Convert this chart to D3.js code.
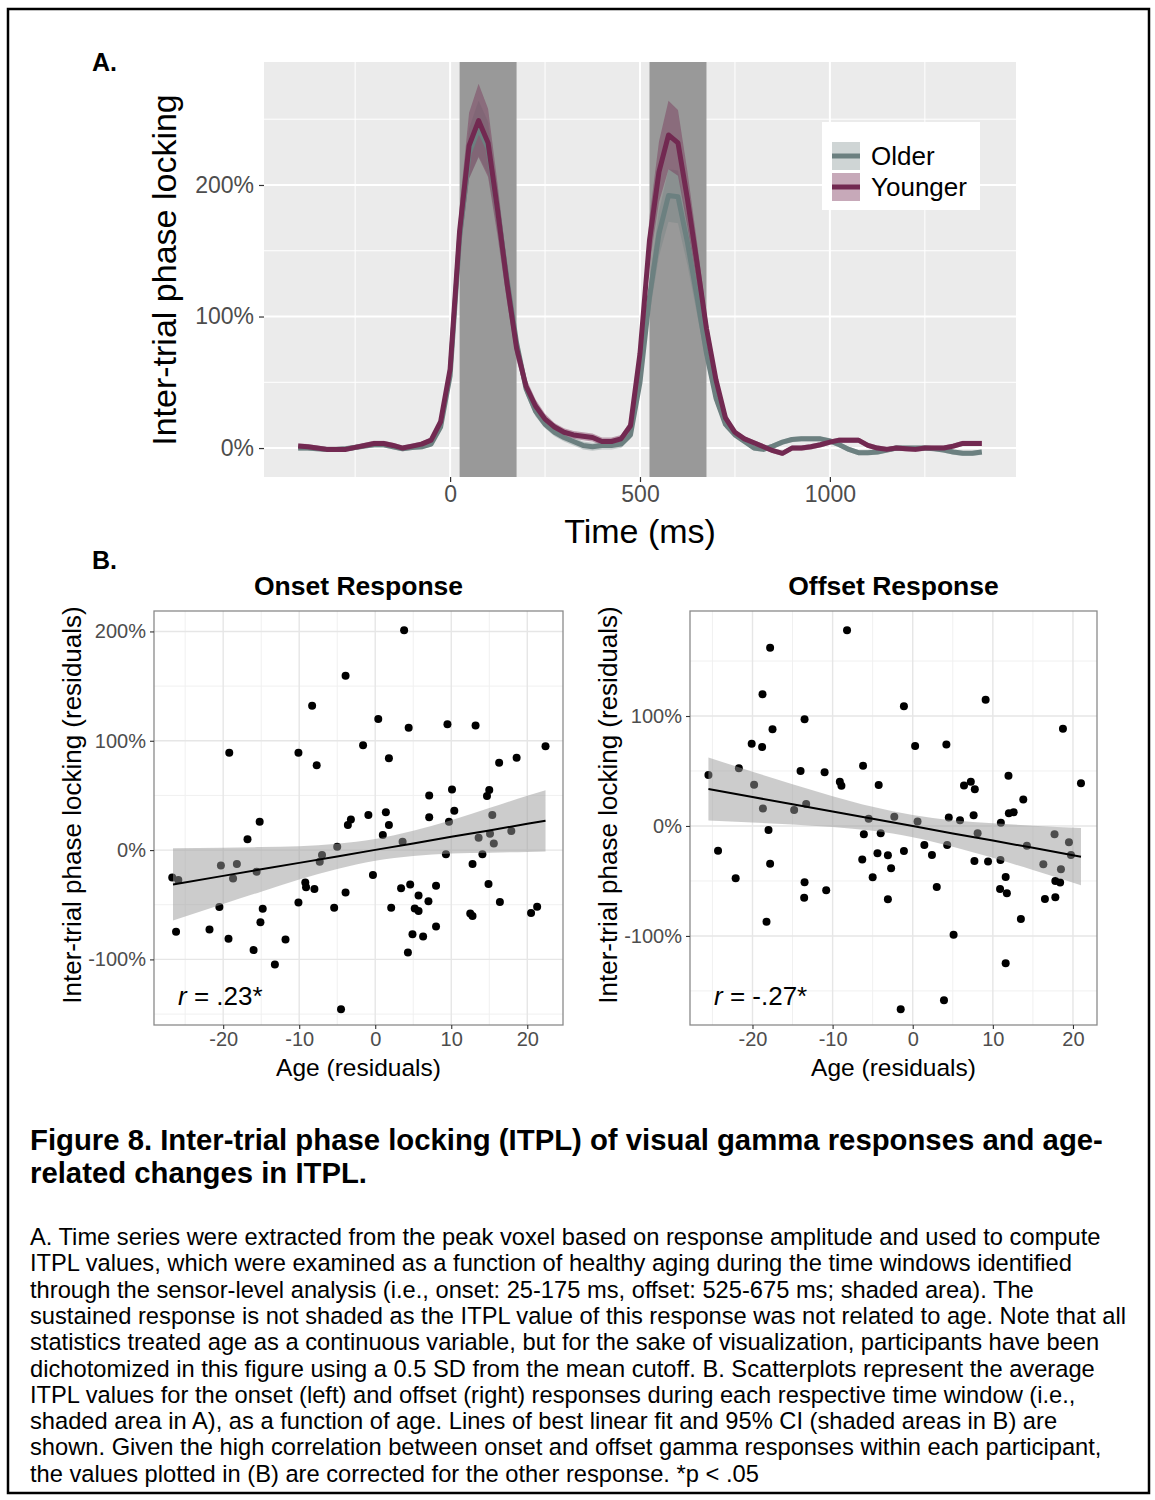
<!DOCTYPE html>
<html lang="en">
<head>
<meta charset="utf-8">
<title>ITPL figure</title>
<script src="https://cdn.jsdelivr.net/npm/d3@7"></script>
<style>
body { margin: 0; background: #fff; }
text { font-family: "Liberation Sans", Arial, sans-serif; }
</style>
</head>
<body>
<script>

// ---- panel A: time series (ms, % ITPL) ----
var times = [-400,-375,-350,-325,-300,-275,-250,-225,-200,-175,-150,-125,-100,-75,-50,-25,
  0,25,50,75,100,125,150,175,200,225,250,275,300,325,350,375,400,425,450,475,
  500,525,550,575,600,625,650,675,700,725,750,775,800,825,850,875,900,925,950,975,
  1000,1025,1050,1075,1100,1125,1150,1175,1200,1225,1250,1275,1300,1325,1350,1375,1400];

var younger = [1.5,1,0,-1,-1,-1,0.5,2,3.5,3.5,2,0,1.5,3,6,20,
  60,165,230,249,232,181,125,76,47,32,22,16,12,10,9,8,5,5,7,17,
  72,158,210,238,232,189,141,91,52,23,12,7,4,1,-2,-4,0,0,1,2.5,
  4.5,6,6,6,2,0,-1,0,-0.5,-1,0,0,0,1.5,3.5,3.5,3.5];
var youngerCI = [2,2,2,2,2,2,2,2,2,2,2,2,2,2,2,
  4,8,18,25,28,26,20,14,9,6,5,4,3,3,
  3,3,3,3,3,3,
  4,9,18,23,26,25,21,16,10,6,4,
  2,2,2,2,2,2,2,2,2,2,2,2,2,2,2,2,2,2,2,2,2,2,2,2,2,2,2];

var older = [0,0,-0.5,-1,-1,-0.5,0.5,1.5,2.5,2.5,1,-0.5,0.5,1,3,16,
  55,160,224,243,228,181,128,80,45,28,18,12,8,5,2,1,2,2,3,10,
  50,115,163,192,191,156,115,72,38,18,10,5,0,-1,1.5,4.5,6.5,7,7,7,
  5.5,2.5,-1,-3.5,-3.5,-3,-1.5,0,0,0,0,-0.5,-1.5,-3,-4,-4,-3];
var olderCI = [2,2,2,2,2,2,2,2,2,2,2,2,2,2,2,
  3,7,15,19,21,20,16,12,8,5,4,3,3,3,
  3,3,3,3,3,3,
  3,7,13,17,20,20,17,13,8,5,3,
  2,2,2,2,2,2,2,2,2,2,2,2,2,2,2,2,2,2,2,2,2,2,2,2,2,2,2];

var groups = ["Older", "Younger"];
var windows = [[25, 175], [525, 675]];
var timeTicks = [0, 500, 1000];
var itplTicks = [0, 100, 200];

// ---- panel B: scatterplots (age residual, ITPL residual %) ----
var onsetAge = [-26.7,-25.9,-26.2,-21.8,-20.3,-20.5,-19.3,-19.2,-18.2,-18.7,-16.8,-15.2,-15.6,-14.8,-15.1,-16.0,
  -13.2,-11.8,-10.1,-10.1,-9.2,-9.1,-8.3,-8.0,-7.7,-7.3,-7.0,-5.4,-5.0,-4.5,-3.9,-3.9,-3.6,-3.2,-1.6,-0.9,
  -0.3,0.4,1.0,1.4,1.8,1.8,2.1,3.4,3.6,3.8,4.3,4.4,4.6,4.9,5.2,5.7,5.7,6.3,7.0,7.1,7.1,8.0,8.0,9.3,9.5,9.7,
  10.1,10.4,12.5,12.8,12.8,13.2,13.6,14.1,14.7,14.9,15.0,15.1,15.4,15.6,16.3,16.4,17.9,18.6,20.5,21.3,22.4];
var onsetItpl = [-25,-27.4,-74.7,-72.6,-14,-52,-81,89,-12.8,-26,9.8,26,-19.8,-53.7,-66,-91.5,
  -104.6,-81.7,89,-48,-29.6,-34,132,-35.7,77.5,-10.7,-4.6,-52.8,3,-145.5,159.5,-38.7,23,28,96,32,
  -22.9,120,13.7,34.5,84,23,-52.8,-35,7.6,201,-93.6,112,-31.4,-77,-53.4,-55.8,-41.5,-79,-46.7,50,30,-32.6,-70,-3.7,115,26,
  55.5,36,-58,-60.4,-12.8,114,11.3,-3.7,49.4,-31,55,15,32,6,80,-47.6,17.4,84.5,-57.6,-51.9,95];

var offsetAge = [-25.5,-24.3,-22.1,-21.7,-20.1,-19.8,-18.8,-18.75,-18.7,-18.25,-18.0,-17.8,-17.5,-17.8,-14.8,-14.0,
  -13.5,-13.5,-13.55,-13.3,-11.0,-10.8,-9.1,-8.9,-8.2,-6.3,-6.2,-6.1,-5.5,-5.0,-4.4,-4.25,-4.0,-3.1,-3.1,-2.7,
  -2.3,-1.5,-1.1,-1.1,0.3,0.6,1.45,2.4,3.0,3.9,4.2,4.3,4.5,5.1,5.9,6.4,7.25,7.6,7.7,7.75,8.1,9.1,9.4,
  10.9,10.95,11.0,11.6,11.6,11.75,11.95,12.0,12.6,13.5,13.8,14.25,16.3,16.5,17.7,17.8,17.8,18.4,18.5,18.75,19.5,19.75,21.0];
var offsetItpl = [46.4,-22.5,-47.6,52.4,74.8,37.6,71.8,119.7,15.8,-87,-3.6,-34.3,87.9,162,14.5,50,
  97,-51.2,-65.2,20,48.8,-58.5,40.3,36.6,178,-30.6,54.8,-7.6,6.6,-46.7,-24.8,37.3,-6.7,-26.7,-66.7,-38.5,
  8.5,-166.6,108.8,-22.7,72.7,4,-17.3,-26.4,-55.5,-158.5,74,-17.3,7.6,-99,5.2,36.7,40.3,9.7,-31.8,33.3,-6.7,114.8,-32.4,
  -57.3,-30.9,3,-46.4,-124.8,-61.2,45.7,11.5,12.5,-84.5,24,-17.9,-34.8,-66.4,-7.6,-64.8,-50,-51.5,-39.4,88.5,-14.8,-26.4,38.8];

// linear fit and 95% CI
var onsetFitAge = [-26.6,-20,-15,-10,-5,0,5,10,15,20,22.4];
var onsetFit = [-31.4,-23.6,-17.6,-11.7,-5.8,0.2,6.1,12.1,18.0,24.0,26.8];
var onsetLow = [-64.4,-49.3,-38,-26.9,-17.4,-9.8,-5.5,-3.1,-2.4,-1.7,-1.2];
var onsetHigh = [1.6,2.1,2.8,3.5,5.8,10.2,17.7,27.3,38.4,49.7,54.8];

var offsetFitAge = [-25.5,-20,-15,-10,-5,0,5,10,15,21];
var offsetFit = [33.6,26.3,19.7,13.1,6.5,-0.1,-6.8,-13.3,-19.9,-27.9];
var offsetLow = [5.0,3.2,1.4,-0.9,-4.4,-10.2,-18.8,-29.0,-40.1,-54.0];
var offsetHigh = [62.2,49.4,38.0,27.1,17.4,10.0,5.2,2.4,0.3,-1.8];

var ageTicks = [-20, -10, 0, 10, 20];
var ageMinor = [-25, -15, -5, 5, 15];

var captionTitle = ["Figure 8. Inter-trial phase locking (ITPL) of visual gamma responses and age-",
  "related changes in ITPL."];
var captionLines = [
  "A. Time series were extracted from the peak voxel based on response amplitude and used to compute",
  "ITPL values, which were examined as a function of healthy aging during the time windows identified",
  "through the sensor-level analysis (i.e., onset: 25-175 ms, offset: 525-675 ms; shaded area). The",
  "sustained response is not shaded as the ITPL value of this response was not related to age. Note that all",
  "statistics treated age as a continuous variable, but for the sake of visualization, participants have been",
  "dichotomized in this figure using a 0.5 SD from the mean cutoff. B. Scatterplots represent the average",
  "ITPL values for the onset (left) and offset (right) responses during each respective time window (i.e.,",
  "shaded area in A), as a function of age. Lines of best linear fit and 95% CI (shaded areas in B) are",
  "shown. Given the high correlation between onset and offset gamma responses within each participant,",
  "the values plotted in (B) are corrected for the other response. *p < .05"];

var colors = { Older: "#6c8080", Younger: "#722951" };
var plain = d => String(d);

var svg = d3.select("body").append("svg")
  .attr("width", 1155)
  .attr("height", 1500);

svg.append("rect")
  .attr("x", 8).attr("y", 9)
  .attr("width", 1141).attr("height", 1484)
  .attr("fill", "none").attr("stroke", "#000").attr("stroke-width", 2.5);

// ================= panel A =================
var xA = d3.scaleLinear().domain([-490, 1490]).range([264, 1016]);
var yA = d3.scaleLinear().domain([-22, 293.5]).range([477, 62]);

var gA = svg.append("g");
gA.append("rect")
  .attr("x", 264).attr("y", 62)
  .attr("width", 752).attr("height", 415)
  .attr("fill", "#ebebeb");

gA.selectAll(".minx").data([-250, 250, 750, 1250]).enter().append("line")
  .attr("x1", d => xA(d)).attr("x2", d => xA(d))
  .attr("y1", 62).attr("y2", 477)
  .attr("stroke", "#fff").attr("stroke-width", 1);
gA.selectAll(".miny").data([50, 150, 250]).enter().append("line")
  .attr("y1", d => yA(d)).attr("y2", d => yA(d))
  .attr("x1", 264).attr("x2", 1016)
  .attr("stroke", "#fff").attr("stroke-width", 1);
gA.selectAll(".majx").data(timeTicks).enter().append("line")
  .attr("x1", d => xA(d)).attr("x2", d => xA(d))
  .attr("y1", 62).attr("y2", 477)
  .attr("stroke", "#fff").attr("stroke-width", 2);
gA.selectAll(".majy").data(itplTicks).enter().append("line")
  .attr("y1", d => yA(d)).attr("y2", d => yA(d))
  .attr("x1", 264).attr("x2", 1016)
  .attr("stroke", "#fff").attr("stroke-width", 2);

gA.selectAll(".win").data(windows).enter().append("rect")
  .attr("x", d => xA(d[0]))
  .attr("width", d => xA(d[1]) - xA(d[0]))
  .attr("y", 62).attr("height", 415)
  .attr("fill", "#999999");

var series = [
  { name: "Older", mean: older, ci: olderCI, alpha: 0.33 },
  { name: "Younger", mean: younger, ci: youngerCI, alpha: 0.4 }
];

var ribbon = d3.area()
  .x((d, i) => xA(times[i]))
  .y0(d => yA(d[0] - d[1]))
  .y1(d => yA(d[0] + d[1]));
var line = d3.line()
  .x((d, i) => xA(times[i]))
  .y(d => yA(d));

series.forEach(function(s) {
  gA.append("path")
    .attr("d", ribbon(s.mean.map((v, i) => [v, s.ci[i]])))
    .attr("fill", colors[s.name])
    .attr("fill-opacity", s.alpha);
});
series.forEach(function(s) {
  gA.append("path")
    .attr("d", line(s.mean))
    .attr("fill", "none")
    .attr("stroke", colors[s.name])
    .attr("stroke-width", 5)
    .attr("stroke-linejoin", "round");
});

var axA_y = gA.append("g")
  .attr("transform", "translate(264,0)")
  .call(d3.axisLeft(yA).tickValues(itplTicks).tickSize(5).tickPadding(5).tickFormat(d => d + "%"));
var axA_x = gA.append("g")
  .attr("transform", "translate(0,477)")
  .call(d3.axisBottom(xA).tickValues(timeTicks).tickSize(5).tickPadding(4).tickFormat(plain));
[axA_y, axA_x].forEach(function(ax) {
  ax.select(".domain").remove();
  ax.selectAll(".tick line").attr("stroke", "#333").attr("stroke-width", 1.2);
  ax.selectAll(".tick text").attr("fill", "#4d4d4d")
    .style("font-size", "23px").style("font-family", "'Liberation Sans', Arial, sans-serif");
});

gA.append("text")
  .attr("transform", "translate(176,270) rotate(-90)")
  .attr("text-anchor", "middle")
  .style("font-size", "34px")
  .text("Inter-trial phase locking");
gA.append("text")
  .attr("x", 640).attr("y", 543)
  .attr("text-anchor", "middle")
  .style("font-size", "34px")
  .text("Time (ms)");

// legend
var leg = gA.append("g").attr("transform", "translate(822,122)");
leg.append("rect").attr("width", 158).attr("height", 88).attr("fill", "#fff");
var keys = leg.selectAll(".key").data(series).enter().append("g")
  .attr("transform", (d, i) => "translate(10," + (20 + i * 31) + ")");
keys.append("rect").attr("width", 28).attr("height", 28)
  .attr("fill", d => colors[d.name]).attr("fill-opacity", d => d.alpha);
keys.append("line").attr("x1", 0).attr("x2", 28).attr("y1", 14).attr("y2", 14)
  .attr("stroke", d => colors[d.name]).attr("stroke-width", 5);
keys.append("text").attr("x", 39).attr("y", 23)
  .style("font-size", "26px").text(d => d.name);

svg.append("text").attr("x", 92).attr("y", 71)
  .style("font-size", "25px").style("font-weight", "bold").text("A.");
svg.append("text").attr("x", 92).attr("y", 569)
  .style("font-size", "25px").style("font-weight", "bold").text("B.");

// ================= panel B =================
function scatter(opt) {
  var g = svg.append("g");
  var x = d3.scaleLinear().domain(opt.xdom).range([opt.left, opt.right]);
  var y = d3.scaleLinear().domain(opt.ydom).range([1025, 611]);

  g.append("rect").attr("x", opt.left).attr("y", 611)
    .attr("width", opt.right - opt.left).attr("height", 414).attr("fill", "#fff");

  g.selectAll(".gx0").data(ageMinor).enter().append("line")
    .attr("x1", d => x(d)).attr("x2", d => x(d)).attr("y1", 611).attr("y2", 1025)
    .attr("stroke", "#f0f0f0").attr("stroke-width", 1);
  g.selectAll(".gy0").data(opt.yminor).enter().append("line")
    .attr("y1", d => y(d)).attr("y2", d => y(d)).attr("x1", opt.left).attr("x2", opt.right)
    .attr("stroke", "#f0f0f0").attr("stroke-width", 1);
  g.selectAll(".gx1").data(ageTicks).enter().append("line")
    .attr("x1", d => x(d)).attr("x2", d => x(d)).attr("y1", 611).attr("y2", 1025)
    .attr("stroke", "#e6e6e6").attr("stroke-width", 1.4);
  g.selectAll(".gy1").data(opt.yticks).enter().append("line")
    .attr("y1", d => y(d)).attr("y2", d => y(d)).attr("x1", opt.left).attr("x2", opt.right)
    .attr("stroke", "#e6e6e6").attr("stroke-width", 1.4);

  g.selectAll("circle").data(opt.age).enter().append("circle")
    .attr("cx", d => x(d))
    .attr("cy", (d, i) => y(opt.itpl[i]))
    .attr("r", 4)
    .attr("fill", "#000");

  var band = d3.area()
    .x((d, i) => x(opt.fitAge[i]))
    .y0(d => y(d[0]))
    .y1(d => y(d[1]))
    .curve(d3.curveMonotoneX);
  g.append("path")
    .attr("d", band(opt.low.map((v, i) => [v, opt.high[i]])))
    .attr("fill", "#999999").attr("fill-opacity", 0.5);
  var fl = d3.line()
    .x((d, i) => x(opt.fitAge[i]))
    .y(d => y(d));
  g.append("path").attr("d", fl(opt.fit))
    .attr("fill", "none").attr("stroke", "#000").attr("stroke-width", 2);

  g.append("rect").attr("x", opt.left).attr("y", 611)
    .attr("width", opt.right - opt.left).attr("height", 414)
    .attr("fill", "none").attr("stroke", "#8a8a8a").attr("stroke-width", 1.3);

  var ay = g.append("g").attr("transform", "translate(" + opt.left + ",0)")
    .call(d3.axisLeft(y).tickValues(opt.yticks).tickSize(4).tickPadding(4).tickFormat(d => d + "%"));
  var ax = g.append("g").attr("transform", "translate(0,1025)")
    .call(d3.axisBottom(x).tickValues(ageTicks).tickSize(4).tickPadding(3).tickFormat(plain));
  [ay, ax].forEach(function(a) {
    a.select(".domain").remove();
    a.selectAll(".tick line").attr("stroke", "#333").attr("stroke-width", 1.1);
    a.selectAll(".tick text").attr("fill", "#4d4d4d")
      .style("font-size", "20px").style("font-family", "'Liberation Sans', Arial, sans-serif");
  });

  g.append("text")
    .attr("x", (opt.left + opt.right) / 2).attr("y", 595)
    .attr("text-anchor", "middle")
    .style("font-size", "26.5px").style("font-weight", "bold")
    .text(opt.title);
  g.append("text")
    .attr("x", (opt.left + opt.right) / 2).attr("y", 1076)
    .attr("text-anchor", "middle")
    .style("font-size", "24.5px")
    .text("Age (residuals)");
  g.append("text")
    .attr("transform", "translate(" + (opt.left - 73) + ",805) rotate(-90)")
    .attr("text-anchor", "middle")
    .style("font-size", "26px")
    .text("Inter-trial phase locking (residuals)");
  var rt = g.append("text")
    .attr("x", opt.left + 24).attr("y", 1005)
    .style("font-size", "26px");
  rt.append("tspan").style("font-style", "italic").text("r");
  rt.append("tspan").text(opt.rtext);
}

scatter({
  title: "Onset Response", left: 154, right: 563,
  xdom: [-29.1, 24.7], ydom: [-160, 218.7],
  yticks: [-100, 0, 100, 200], yminor: [-150, -50, 50, 150],
  age: onsetAge, itpl: onsetItpl,
  fitAge: onsetFitAge, fit: onsetFit, low: onsetLow, high: onsetHigh,
  rtext: " = .23*"
});
scatter({
  title: "Offset Response", left: 690, right: 1097,
  xdom: [-27.8, 23.0], ydom: [-181, 195.5],
  yticks: [-100, 0, 100], yminor: [-150, -50, 50, 150],
  age: offsetAge, itpl: offsetItpl,
  fitAge: offsetFitAge, fit: offsetFit, low: offsetLow, high: offsetHigh,
  rtext: " = -.27*"
});

// ================= caption =================
svg.selectAll(".ctitle").data(captionTitle).enter().append("text")
  .attr("x", 30).attr("y", (d, i) => 1150 + i * 33)
  .style("font-size", "29.3px").style("font-weight", "bold")
  .text(d => d);
svg.selectAll(".cline").data(captionLines).enter().append("text")
  .attr("x", 30).attr("y", (d, i) => 1245 + i * 26.3)
  .style("font-size", "23.7px")
  .text(d => d);

</script>
</body>
</html>
